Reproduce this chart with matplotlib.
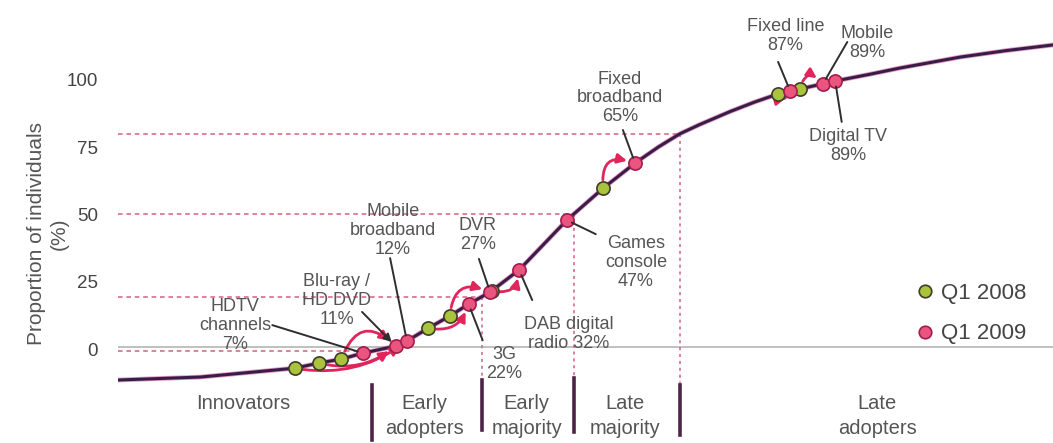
import numpy as np
import matplotlib
matplotlib.use("Agg")
import matplotlib.pyplot as plt
from matplotlib.lines import Line2D
from matplotlib.patches import FancyArrowPatch

plt.rcParams['font.family'] = ['Liberation Sans', 'DejaVu Sans']

# Diffusion curve: position along the adoption axis (0-100) vs. proportion of individuals
curve_pos = [0, 8.8, 18.9, 21.5, 23.9, 26.2, 29.7, 30.9, 33.2, 35.5, 37.5, 39.8,
             42.9, 48.0, 51.9, 55.3, 57.8, 60.1, 62.2, 65.5, 68.1, 70.6, 72.9, 76.7,
             80.4, 83.6, 90.1, 95.0, 100]
curve_val = [-11.5, -10.4, -7.1, -5.2, -3.7, -1.5, 1.1, 3.0, 7.8, 12.3, 16.7, 21.2,
             29.4, 47.9, 59.8, 69.1, 75.1, 80.0, 83.4, 88.3, 91.8, 94.8, 96.6, 99.6,
             102.1, 104.4, 108.5, 110.9, 113.0]

# Technologies, their Q1 2009 take-up and their place on the curve
tech_names = ["HDTV\nchannels", "Blu-ray /\nHD DVD", "Mobile\nbroadband", "3G", "DVR",
              "DAB digital\nradio", "Games\nconsole", "Fixed\nbroadband", "Fixed line",
              "Mobile", "Digital TV"]
tech_share = [7, 11, 12, 22, 27, 32, 47, 65, 87, 89, 89]
pos_2009 = [26.2, 29.7, 30.9, 37.5, 39.8, 42.9, 48.0, 55.3, 71.9, 75.4, 76.7]
pos_2008 = [21.5, 23.9, 18.9, 33.2, 35.5, 40.0, None, 51.9, 70.6, 72.9, None]

# Adopter segments
segment_names = ["Innovators", "Early\nadopters", "Early\nmajority", "Late\nmajority", "Late\nadopters"]
segment_bounds = [27.2, 38.9, 48.8, 60.1]
segment_centres = [13.4, 32.8, 43.7, 54.2, 81.2]

y_ticks = [0, 25, 50, 75, 100]

TXT = '#555555'
DARK = '#3a1c4a'
PINK = '#e9557e'
PINK_EDGE = '#a51c4c'
GREEN = '#a9c43c'
GREEN_EDGE = '#3f3a2c'
ARROW_RED = '#e0245c'
DASH = '#d2607f'
SEP = '#4d2448'

W, H = 1053, 443
fig = plt.figure(figsize=(W / 100, H / 100), dpi=100)
ax = fig.add_axes([118 / W, 0, 935 / W, 1])
ax.set_xlim(0, 100)
ax.set_ylim(-34.9, 129.7)
for s in ax.spines.values():
    s.set_visible(False)
ax.set_xticks([])
ax.set_yticks(y_ticks)
ax.tick_params(axis='y', length=0, pad=14.5, labelsize=13.5, labelcolor='#444444')
ax.set_ylabel("Proportion of individuals\n(%)", fontsize=15, color=TXT, linespacing=1.2)
ax.yaxis.set_label_coords(-0.053, 0.472)

def curve_at(p):
    return float(np.interp(p, curve_pos, curve_val))

# Zero line
ax.plot([0, 100], [0.6, 0.6], color='#b5b5b5', lw=1.2, zorder=1)

# Segment guides: dashed lines from the axis to the curve, and separators below
sep_top = [-13.4, -11.5, -10.8, -13.4]
sep_bot = [-33.8, -30.1, -30.9, -32.0]
for i, b in enumerate(segment_bounds):
    yb = curve_at(b)
    ax.plot([0, b], [yb, yb], color=DASH, lw=1.1, ls=(0, (3, 2.5)), zorder=1)
    if i > 0:
        ax.plot([b, b], [yb, sep_top[i]], color=DASH, lw=1.1, ls=(0, (2, 2.5)), zorder=1)
    ax.plot([b, b], [sep_top[i], sep_bot[i]], color=SEP, lw=2.6, zorder=2)

for name, c in zip(segment_names, segment_centres):
    ax.text(c, -16.6, name, ha='center', va='top', fontsize=14.5, color=TXT, linespacing=1.4)

# Curve
ax.plot(curve_pos, curve_val, color='#c84b82', lw=3.4, alpha=0.55, zorder=3,
        solid_capstyle='round', solid_joinstyle='round')
ax.plot(curve_pos, curve_val, color=DARK, lw=2.2, zorder=3, solid_capstyle='round',
        solid_joinstyle='round')

# Shift arrows from 2008 to 2009 positions: (from, to, curvature)
shift_arrows = [(18.9, 30.9, 0.22), (21.5, 29.7, 0.25), (23.9, 29.7, -0.75),
                (33.2, 37.5, 0.45), (35.5, 39.8, -0.7), (40.0, 42.9, 0.6),
                (51.9, 55.3, -0.8), (70.6, 71.9, 0.9), (72.9, 75.4, -0.9)]
for a, b, rad in shift_arrows:
    arr = FancyArrowPatch((a, curve_at(a)), (b, curve_at(b)),
                          connectionstyle=f"arc3,rad={rad}", arrowstyle='-|>',
                          mutation_scale=14, color=ARROW_RED, lw=2.0,
                          shrinkA=6, shrinkB=6, zorder=4)
    ax.add_patch(arr)

# Markers
g_pos = [p for p in pos_2008 if p is not None]
ax.plot(g_pos, [curve_at(p) for p in g_pos], 'o', ms=9.5, mfc=GREEN, mec=GREEN_EDGE,
        mew=1.2, zorder=5, ls='none')
ax.plot(pos_2009, [curve_at(p) for p in pos_2009], 'o', ms=9.5, mfc=PINK, mec=PINK_EDGE,
        mew=1.2, zorder=6, ls='none')

# Labels: (text centre x, text centre y, leader start x, leader start y)
label_layout = [(12.5, 8.9, 16.5, 8.9), (23.4, 18.2, 26.1, 13.8), (29.4, 43.9, 29.1, 33.8),
                (41.3, -5.6, 39.0, 3.3), (38.5, 42.4, 38.6, 33.5), (48.2, 5.6, 44.3, 18.2),
                (55.4, 32.0, 51.1, 42.7), (53.7, 93.3, 54.0, 81.4), (71.4, 116.5, 70.6, 106.7),
                (80.1, 113.6, 78.0, 114.1), (78.1, 75.5, 77.4, 84.4)]
for i, (name, share, p) in enumerate(zip(tech_names, tech_share, pos_2009)):
    tx, ty, lx, ly = label_layout[i]
    if name.startswith("DAB"):
        label = f"DAB digital\nradio {share}%"
    else:
        label = f"{name}\n{share}%"
    ax.text(tx, ty, label, ha='center', va='center', fontsize=13, color=TXT,
            linespacing=1.15, zorder=2)
    style = '-|>' if name.startswith("Blu") else '-'
    ax.annotate("", xy=(p, curve_at(p)), xytext=(lx, ly),
                arrowprops=dict(arrowstyle=style, color='#2e2e2e', lw=1.4,
                                shrinkA=0, shrinkB=4, mutation_scale=12), zorder=7)

# Legend
handles = [Line2D([], [], marker='o', ls='none', ms=9, mfc=GREEN, mec=GREEN_EDGE, mew=1.2),
           Line2D([], [], marker='o', ls='none', ms=9, mfc=PINK, mec=PINK_EDGE, mew=1.2)]
fig.legend(handles, ["Q1 2008", "Q1 2009"], loc='center left',
           bbox_to_anchor=(919 / W, (H - 313.5) / H), frameon=False, fontsize=16,
           handlelength=0.55, handletextpad=0.45, labelspacing=0.9, borderpad=0,
           borderaxespad=0, labelcolor='#444444')

fig.savefig("out.png", dpi=100)
